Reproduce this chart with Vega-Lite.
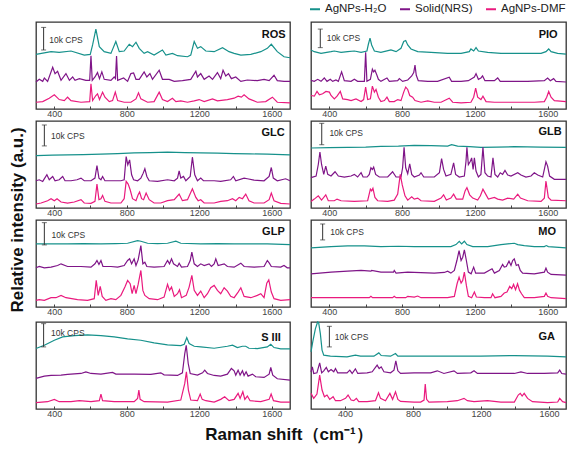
{
"$schema":"https://vega.github.io/schema/vega-lite/v6.json",
"padding":{"left":8,"top":3,"right":2,"bottom":4},
"background":"white",
"title":{"text":"Raman shift（cm⁻¹）","orient":"bottom","anchor":"middle","frame":"bounds","fontSize":17,"fontWeight":"bold","font":"Liberation Sans","color":"#111","offset":8},
"datasets":{
"ROS_H":[{"x":300,"y":162},{"x":383,"y":170},{"x":428,"y":168},{"x":493,"y":172},{"x":566,"y":160},{"x":599,"y":162},{"x":612,"y":190},{"x":630,"y":237},{"x":649,"y":185},{"x":676,"y":170},{"x":713,"y":165},{"x":740,"y":200},{"x":759,"y":170},{"x":786,"y":172},{"x":814,"y":192},{"x":832,"y":185},{"x":851,"y":198},{"x":869,"y":180},{"x":896,"y":165},{"x":915,"y":170},{"x":951,"y":160},{"x":997,"y":175},{"x":1016,"y":160},{"x":1052,"y":165},{"x":1080,"y":158},{"x":1135,"y":155},{"x":1153,"y":160},{"x":1172,"y":200},{"x":1190,"y":180},{"x":1208,"y":185},{"x":1236,"y":172},{"x":1282,"y":170},{"x":1328,"y":182},{"x":1364,"y":170},{"x":1392,"y":165},{"x":1429,"y":160},{"x":1484,"y":162},{"x":1539,"y":170},{"x":1575,"y":180},{"x":1597,"y":192},{"x":1630,"y":170},{"x":1667,"y":155},{"x":1700,"y":152}],
"ROS_N":[{"x":300,"y":80},{"x":318,"y":88},{"x":337,"y":82},{"x":346,"y":92},{"x":364,"y":82},{"x":392,"y":124},{"x":405,"y":105},{"x":419,"y":112},{"x":438,"y":85},{"x":465,"y":105},{"x":484,"y":85},{"x":502,"y":95},{"x":515,"y":85},{"x":539,"y":90},{"x":575,"y":85},{"x":596,"y":85},{"x":603,"y":158},{"x":610,"y":85},{"x":625,"y":95},{"x":639,"y":108},{"x":650,"y":90},{"x":663,"y":110},{"x":676,"y":88},{"x":713,"y":85},{"x":731,"y":95},{"x":738,"y":90},{"x":744,"y":157},{"x":750,"y":85},{"x":783,"y":92},{"x":805,"y":82},{"x":823,"y":105},{"x":838,"y":107},{"x":851,"y":88},{"x":869,"y":88},{"x":896,"y":110},{"x":911,"y":95},{"x":928,"y":105},{"x":942,"y":88},{"x":979,"y":115},{"x":997,"y":88},{"x":1034,"y":88},{"x":1062,"y":82},{"x":1107,"y":84},{"x":1153,"y":88},{"x":1181,"y":112},{"x":1190,"y":95},{"x":1208,"y":105},{"x":1227,"y":88},{"x":1254,"y":98},{"x":1273,"y":88},{"x":1300,"y":108},{"x":1318,"y":90},{"x":1331,"y":115},{"x":1346,"y":98},{"x":1361,"y":105},{"x":1377,"y":90},{"x":1401,"y":95},{"x":1429,"y":82},{"x":1465,"y":86},{"x":1520,"y":84},{"x":1557,"y":88},{"x":1585,"y":84},{"x":1612,"y":100},{"x":1630,"y":84},{"x":1667,"y":82},{"x":1700,"y":82}],
"ROS_D":[{"x":300,"y":20},{"x":337,"y":22},{"x":373,"y":32},{"x":401,"y":42},{"x":428,"y":28},{"x":456,"y":25},{"x":474,"y":35},{"x":493,"y":25},{"x":548,"y":20},{"x":596,"y":22},{"x":603,"y":75},{"x":612,"y":25},{"x":630,"y":40},{"x":639,"y":45},{"x":650,"y":28},{"x":667,"y":50},{"x":680,"y":35},{"x":704,"y":22},{"x":722,"y":25},{"x":737,"y":50},{"x":750,"y":25},{"x":786,"y":20},{"x":823,"y":20},{"x":851,"y":30},{"x":865,"y":48},{"x":878,"y":30},{"x":915,"y":20},{"x":951,"y":22},{"x":979,"y":50},{"x":997,"y":28},{"x":1025,"y":22},{"x":1052,"y":32},{"x":1071,"y":22},{"x":1098,"y":24},{"x":1135,"y":20},{"x":1172,"y":24},{"x":1199,"y":28},{"x":1227,"y":22},{"x":1273,"y":30},{"x":1300,"y":24},{"x":1355,"y":28},{"x":1392,"y":32},{"x":1414,"y":38},{"x":1432,"y":35},{"x":1447,"y":42},{"x":1474,"y":30},{"x":1520,"y":20},{"x":1566,"y":22},{"x":1603,"y":35},{"x":1630,"y":20},{"x":1700,"y":18}],
"PIO_H":[{"x":300,"y":175},{"x":318,"y":170},{"x":355,"y":165},{"x":410,"y":170},{"x":428,"y":172},{"x":465,"y":168},{"x":501,"y":170},{"x":538,"y":172},{"x":575,"y":168},{"x":607,"y":172},{"x":615,"y":192},{"x":624,"y":210},{"x":633,"y":190},{"x":648,"y":172},{"x":684,"y":168},{"x":739,"y":175},{"x":767,"y":170},{"x":794,"y":180},{"x":809,"y":200},{"x":820,"y":203},{"x":831,"y":190},{"x":849,"y":178},{"x":886,"y":170},{"x":959,"y":168},{"x":1050,"y":165},{"x":1124,"y":165},{"x":1169,"y":170},{"x":1178,"y":178},{"x":1193,"y":172},{"x":1206,"y":182},{"x":1219,"y":172},{"x":1270,"y":168},{"x":1343,"y":165},{"x":1416,"y":165},{"x":1490,"y":165},{"x":1563,"y":165},{"x":1590,"y":170},{"x":1605,"y":178},{"x":1618,"y":170},{"x":1654,"y":165},{"x":1700,"y":163}],
"PIO_N":[{"x":300,"y":85},{"x":318,"y":82},{"x":337,"y":88},{"x":355,"y":82},{"x":373,"y":92},{"x":388,"y":82},{"x":406,"y":88},{"x":419,"y":82},{"x":437,"y":86},{"x":450,"y":82},{"x":468,"y":110},{"x":483,"y":84},{"x":520,"y":82},{"x":538,"y":88},{"x":556,"y":82},{"x":593,"y":82},{"x":600,"y":168},{"x":607,"y":82},{"x":626,"y":88},{"x":637,"y":118},{"x":644,"y":110},{"x":651,"y":115},{"x":662,"y":100},{"x":670,"y":88},{"x":684,"y":82},{"x":717,"y":92},{"x":730,"y":82},{"x":776,"y":84},{"x":785,"y":90},{"x":803,"y":82},{"x":831,"y":86},{"x":853,"y":98},{"x":864,"y":108},{"x":871,"y":130},{"x":878,"y":100},{"x":889,"y":84},{"x":941,"y":82},{"x":995,"y":82},{"x":1059,"y":94},{"x":1072,"y":82},{"x":1124,"y":82},{"x":1164,"y":84},{"x":1197,"y":95},{"x":1206,"y":105},{"x":1219,"y":88},{"x":1233,"y":92},{"x":1242,"y":98},{"x":1255,"y":84},{"x":1307,"y":84},{"x":1325,"y":92},{"x":1339,"y":82},{"x":1416,"y":82},{"x":1490,"y":82},{"x":1581,"y":84},{"x":1599,"y":92},{"x":1614,"y":84},{"x":1632,"y":90},{"x":1645,"y":82},{"x":1700,"y":80}],
"PIO_D":[{"x":300,"y":40},{"x":318,"y":38},{"x":333,"y":52},{"x":346,"y":42},{"x":364,"y":45},{"x":382,"y":52},{"x":401,"y":50},{"x":410,"y":40},{"x":428,"y":30},{"x":443,"y":38},{"x":461,"y":52},{"x":474,"y":30},{"x":501,"y":28},{"x":520,"y":25},{"x":547,"y":30},{"x":575,"y":22},{"x":589,"y":28},{"x":600,"y":65},{"x":611,"y":28},{"x":626,"y":30},{"x":637,"y":68},{"x":648,"y":50},{"x":657,"y":58},{"x":670,"y":35},{"x":684,"y":22},{"x":703,"y":25},{"x":717,"y":35},{"x":730,"y":22},{"x":757,"y":22},{"x":776,"y":28},{"x":794,"y":25},{"x":809,"y":50},{"x":820,"y":65},{"x":831,"y":58},{"x":842,"y":40},{"x":858,"y":35},{"x":871,"y":25},{"x":904,"y":20},{"x":941,"y":24},{"x":977,"y":20},{"x":1014,"y":20},{"x":1059,"y":32},{"x":1078,"y":20},{"x":1124,"y":18},{"x":1178,"y":20},{"x":1193,"y":35},{"x":1204,"y":62},{"x":1215,"y":35},{"x":1233,"y":28},{"x":1244,"y":38},{"x":1261,"y":22},{"x":1307,"y":20},{"x":1380,"y":20},{"x":1453,"y":20},{"x":1526,"y":20},{"x":1581,"y":22},{"x":1594,"y":35},{"x":1605,"y":52},{"x":1618,"y":35},{"x":1636,"y":25},{"x":1700,"y":22}],
"GLC_H":[{"x":300,"y":158},{"x":390,"y":159},{"x":474,"y":160},{"x":560,"y":161},{"x":658,"y":162},{"x":750,"y":164},{"x":841,"y":166},{"x":930,"y":167},{"x":1025,"y":168},{"x":1120,"y":167},{"x":1208,"y":166},{"x":1300,"y":165},{"x":1392,"y":164},{"x":1480,"y":163},{"x":1575,"y":162},{"x":1700,"y":160}],
"GLC_N":[{"x":300,"y":82},{"x":318,"y":85},{"x":337,"y":80},{"x":360,"y":100},{"x":373,"y":85},{"x":392,"y":95},{"x":405,"y":82},{"x":428,"y":85},{"x":447,"y":95},{"x":460,"y":82},{"x":493,"y":82},{"x":526,"y":85},{"x":548,"y":90},{"x":566,"y":82},{"x":603,"y":82},{"x":625,"y":90},{"x":636,"y":128},{"x":647,"y":90},{"x":658,"y":85},{"x":667,"y":95},{"x":680,"y":82},{"x":731,"y":82},{"x":768,"y":82},{"x":786,"y":85},{"x":797,"y":155},{"x":806,"y":130},{"x":816,"y":145},{"x":827,"y":100},{"x":838,"y":85},{"x":860,"y":82},{"x":878,"y":90},{"x":891,"y":105},{"x":900,"y":118},{"x":911,"y":95},{"x":924,"y":82},{"x":970,"y":80},{"x":1025,"y":85},{"x":1062,"y":82},{"x":1080,"y":90},{"x":1089,"y":112},{"x":1098,"y":90},{"x":1113,"y":95},{"x":1126,"y":82},{"x":1150,"y":95},{"x":1162,"y":153},{"x":1175,"y":100},{"x":1190,"y":82},{"x":1208,"y":90},{"x":1223,"y":82},{"x":1282,"y":82},{"x":1318,"y":80},{"x":1373,"y":85},{"x":1388,"y":95},{"x":1401,"y":82},{"x":1447,"y":90},{"x":1465,"y":88},{"x":1502,"y":84},{"x":1557,"y":82},{"x":1585,"y":95},{"x":1597,"y":122},{"x":1608,"y":90},{"x":1630,"y":82},{"x":1676,"y":88},{"x":1700,"y":82}],
"GLC_D":[{"x":300,"y":12},{"x":328,"y":15},{"x":364,"y":22},{"x":383,"y":28},{"x":401,"y":22},{"x":416,"y":28},{"x":438,"y":18},{"x":474,"y":15},{"x":511,"y":18},{"x":548,"y":25},{"x":566,"y":15},{"x":603,"y":14},{"x":625,"y":20},{"x":636,"y":72},{"x":647,"y":25},{"x":658,"y":28},{"x":667,"y":38},{"x":680,"y":20},{"x":713,"y":15},{"x":768,"y":15},{"x":786,"y":28},{"x":797,"y":80},{"x":808,"y":72},{"x":819,"y":55},{"x":832,"y":28},{"x":851,"y":22},{"x":863,"y":40},{"x":871,"y":48},{"x":882,"y":28},{"x":893,"y":25},{"x":907,"y":45},{"x":924,"y":25},{"x":951,"y":15},{"x":988,"y":15},{"x":1025,"y":22},{"x":1062,"y":25},{"x":1089,"y":42},{"x":1107,"y":22},{"x":1135,"y":25},{"x":1162,"y":58},{"x":1181,"y":32},{"x":1194,"y":22},{"x":1208,"y":25},{"x":1227,"y":15},{"x":1282,"y":15},{"x":1318,"y":20},{"x":1355,"y":22},{"x":1383,"y":28},{"x":1401,"y":22},{"x":1420,"y":32},{"x":1438,"y":28},{"x":1456,"y":42},{"x":1474,"y":22},{"x":1502,"y":15},{"x":1557,"y":15},{"x":1585,"y":25},{"x":1597,"y":45},{"x":1612,"y":22},{"x":1649,"y":14},{"x":1700,"y":12}],
"GLB_H":[{"x":300,"y":182},{"x":400,"y":183},{"x":501,"y":184},{"x":600,"y":185},{"x":684,"y":187},{"x":780,"y":188},{"x":867,"y":190},{"x":960,"y":189},{"x":1050,"y":188},{"x":1072,"y":192},{"x":1105,"y":188},{"x":1170,"y":186},{"x":1233,"y":184},{"x":1320,"y":185},{"x":1416,"y":186},{"x":1560,"y":185},{"x":1700,"y":184}],
"GLB_N":[{"x":300,"y":92},{"x":328,"y":97},{"x":340,"y":132},{"x":349,"y":170},{"x":358,"y":132},{"x":370,"y":102},{"x":381,"y":127},{"x":392,"y":102},{"x":410,"y":97},{"x":432,"y":110},{"x":450,"y":97},{"x":483,"y":94},{"x":520,"y":97},{"x":538,"y":102},{"x":556,"y":94},{"x":575,"y":107},{"x":586,"y":94},{"x":608,"y":94},{"x":620,"y":102},{"x":629,"y":122},{"x":637,"y":117},{"x":644,"y":124},{"x":655,"y":102},{"x":675,"y":94},{"x":721,"y":94},{"x":748,"y":110},{"x":767,"y":94},{"x":794,"y":94},{"x":803,"y":122},{"x":811,"y":184},{"x":820,"y":122},{"x":831,"y":104},{"x":842,"y":134},{"x":853,"y":102},{"x":867,"y":94},{"x":895,"y":100},{"x":904,"y":107},{"x":919,"y":94},{"x":977,"y":94},{"x":1005,"y":107},{"x":1017,"y":150},{"x":1028,"y":117},{"x":1041,"y":97},{"x":1068,"y":102},{"x":1083,"y":137},{"x":1094,"y":102},{"x":1114,"y":94},{"x":1142,"y":97},{"x":1151,"y":142},{"x":1156,"y":184},{"x":1164,"y":132},{"x":1175,"y":142},{"x":1182,"y":152},{"x":1190,"y":117},{"x":1197,"y":152},{"x":1206,"y":112},{"x":1219,"y":94},{"x":1233,"y":102},{"x":1244,"y":184},{"x":1255,"y":107},{"x":1270,"y":97},{"x":1288,"y":94},{"x":1299,"y":152},{"x":1310,"y":102},{"x":1325,"y":94},{"x":1339,"y":107},{"x":1352,"y":102},{"x":1365,"y":114},{"x":1380,"y":100},{"x":1398,"y":97},{"x":1435,"y":107},{"x":1453,"y":100},{"x":1480,"y":94},{"x":1508,"y":97},{"x":1526,"y":107},{"x":1545,"y":100},{"x":1572,"y":94},{"x":1590,"y":140},{"x":1599,"y":127},{"x":1610,"y":97},{"x":1636,"y":87},{"x":1700,"y":87}],
"GLB_D":[{"x":300,"y":20},{"x":318,"y":27},{"x":340,"y":37},{"x":358,"y":24},{"x":381,"y":40},{"x":395,"y":22},{"x":428,"y":22},{"x":443,"y":27},{"x":465,"y":22},{"x":538,"y":20},{"x":611,"y":22},{"x":626,"y":57},{"x":633,"y":52},{"x":640,"y":60},{"x":651,"y":32},{"x":666,"y":22},{"x":721,"y":20},{"x":757,"y":24},{"x":776,"y":42},{"x":790,"y":102},{"x":801,"y":70},{"x":816,"y":37},{"x":831,"y":24},{"x":853,"y":34},{"x":867,"y":27},{"x":886,"y":30},{"x":904,"y":22},{"x":977,"y":20},{"x":1014,"y":30},{"x":1028,"y":40},{"x":1043,"y":24},{"x":1068,"y":30},{"x":1083,"y":42},{"x":1098,"y":27},{"x":1133,"y":27},{"x":1146,"y":52},{"x":1156,"y":62},{"x":1171,"y":40},{"x":1188,"y":30},{"x":1215,"y":24},{"x":1230,"y":37},{"x":1244,"y":57},{"x":1259,"y":42},{"x":1274,"y":27},{"x":1307,"y":32},{"x":1325,"y":27},{"x":1352,"y":24},{"x":1380,"y":30},{"x":1413,"y":27},{"x":1435,"y":42},{"x":1450,"y":30},{"x":1490,"y":22},{"x":1563,"y":20},{"x":1581,"y":30},{"x":1590,"y":82},{"x":1603,"y":32},{"x":1618,"y":24},{"x":1700,"y":22}],
"GLP_H":[{"x":300,"y":190},{"x":390,"y":190},{"x":474,"y":190},{"x":560,"y":191},{"x":658,"y":190},{"x":740,"y":191},{"x":805,"y":192},{"x":860,"y":200},{"x":878,"y":198},{"x":915,"y":192},{"x":970,"y":191},{"x":1025,"y":192},{"x":1071,"y":198},{"x":1098,"y":192},{"x":1208,"y":190},{"x":1300,"y":191},{"x":1392,"y":190},{"x":1480,"y":190},{"x":1575,"y":190},{"x":1700,"y":188}],
"GLP_N":[{"x":300,"y":118},{"x":318,"y":122},{"x":346,"y":118},{"x":383,"y":120},{"x":419,"y":125},{"x":438,"y":130},{"x":474,"y":122},{"x":548,"y":122},{"x":603,"y":120},{"x":625,"y":130},{"x":636,"y":140},{"x":647,"y":128},{"x":658,"y":140},{"x":669,"y":122},{"x":713,"y":122},{"x":750,"y":120},{"x":786,"y":125},{"x":805,"y":140},{"x":816,"y":145},{"x":827,"y":130},{"x":841,"y":145},{"x":851,"y":125},{"x":863,"y":142},{"x":878,"y":185},{"x":889,"y":130},{"x":900,"y":135},{"x":911,"y":122},{"x":951,"y":120},{"x":1006,"y":122},{"x":1025,"y":140},{"x":1036,"y":130},{"x":1047,"y":145},{"x":1058,"y":130},{"x":1080,"y":122},{"x":1089,"y":132},{"x":1102,"y":120},{"x":1135,"y":122},{"x":1150,"y":140},{"x":1159,"y":165},{"x":1172,"y":130},{"x":1190,"y":122},{"x":1208,"y":130},{"x":1227,"y":125},{"x":1254,"y":130},{"x":1267,"y":122},{"x":1282,"y":130},{"x":1291,"y":145},{"x":1304,"y":125},{"x":1337,"y":130},{"x":1355,"y":122},{"x":1392,"y":120},{"x":1429,"y":132},{"x":1447,"y":122},{"x":1502,"y":120},{"x":1557,"y":122},{"x":1575,"y":140},{"x":1586,"y":132},{"x":1597,"y":122},{"x":1649,"y":120},{"x":1667,"y":125},{"x":1685,"y":118},{"x":1700,"y":118}],
"GLP_D":[{"x":300,"y":20},{"x":318,"y":22},{"x":346,"y":20},{"x":383,"y":28},{"x":410,"y":28},{"x":438,"y":35},{"x":465,"y":28},{"x":529,"y":22},{"x":584,"y":20},{"x":621,"y":25},{"x":632,"y":80},{"x":643,"y":35},{"x":654,"y":62},{"x":665,"y":32},{"x":685,"y":20},{"x":713,"y":25},{"x":740,"y":22},{"x":768,"y":35},{"x":790,"y":60},{"x":805,"y":80},{"x":819,"y":70},{"x":830,"y":40},{"x":841,"y":65},{"x":851,"y":40},{"x":863,"y":68},{"x":878,"y":110},{"x":889,"y":50},{"x":900,"y":35},{"x":924,"y":25},{"x":970,"y":22},{"x":1006,"y":30},{"x":1025,"y":68},{"x":1036,"y":50},{"x":1047,"y":60},{"x":1062,"y":32},{"x":1080,"y":40},{"x":1091,"y":52},{"x":1102,"y":28},{"x":1128,"y":35},{"x":1144,"y":60},{"x":1159,"y":95},{"x":1172,"y":50},{"x":1190,"y":35},{"x":1208,"y":48},{"x":1227,"y":28},{"x":1245,"y":40},{"x":1263,"y":58},{"x":1282,"y":65},{"x":1300,"y":50},{"x":1318,"y":40},{"x":1337,"y":58},{"x":1355,"y":48},{"x":1373,"y":32},{"x":1392,"y":28},{"x":1414,"y":45},{"x":1429,"y":58},{"x":1447,"y":32},{"x":1484,"y":28},{"x":1520,"y":35},{"x":1539,"y":40},{"x":1557,"y":28},{"x":1572,"y":72},{"x":1583,"y":82},{"x":1597,"y":45},{"x":1612,"y":25},{"x":1649,"y":20},{"x":1700,"y":22}],
"MO_H":[{"x":300,"y":178},{"x":410,"y":182},{"x":501,"y":184},{"x":593,"y":184},{"x":684,"y":182},{"x":780,"y":183},{"x":867,"y":182},{"x":959,"y":182},{"x":1068,"y":182},{"x":1096,"y":188},{"x":1114,"y":198},{"x":1127,"y":190},{"x":1142,"y":198},{"x":1156,"y":188},{"x":1188,"y":182},{"x":1270,"y":182},{"x":1343,"y":188},{"x":1380,"y":190},{"x":1416,"y":192},{"x":1435,"y":188},{"x":1471,"y":185},{"x":1526,"y":182},{"x":1581,"y":182},{"x":1592,"y":185},{"x":1603,"y":182},{"x":1700,"y":178}],
"MO_N":[{"x":300,"y":100},{"x":410,"y":105},{"x":501,"y":108},{"x":575,"y":110},{"x":629,"y":108},{"x":633,"y":110},{"x":684,"y":105},{"x":753,"y":105},{"x":757,"y":110},{"x":767,"y":102},{"x":831,"y":105},{"x":867,"y":104},{"x":977,"y":102},{"x":1032,"y":104},{"x":1050,"y":108},{"x":1068,"y":102},{"x":1087,"y":110},{"x":1101,"y":140},{"x":1113,"y":170},{"x":1124,"y":140},{"x":1133,"y":150},{"x":1142,"y":172},{"x":1153,"y":140},{"x":1164,"y":105},{"x":1179,"y":100},{"x":1193,"y":120},{"x":1204,"y":102},{"x":1252,"y":102},{"x":1294,"y":115},{"x":1307,"y":102},{"x":1334,"y":110},{"x":1352,"y":128},{"x":1361,"y":120},{"x":1372,"y":122},{"x":1387,"y":138},{"x":1398,"y":125},{"x":1407,"y":140},{"x":1416,"y":145},{"x":1427,"y":125},{"x":1438,"y":128},{"x":1449,"y":110},{"x":1462,"y":102},{"x":1526,"y":100},{"x":1581,"y":105},{"x":1590,"y":117},{"x":1599,"y":105},{"x":1618,"y":98},{"x":1700,"y":96}],
"MO_D":[{"x":300,"y":28},{"x":410,"y":28},{"x":501,"y":28},{"x":620,"y":28},{"x":629,"y":32},{"x":638,"y":28},{"x":748,"y":28},{"x":757,"y":32},{"x":767,"y":28},{"x":820,"y":28},{"x":831,"y":32},{"x":867,"y":30},{"x":886,"y":33},{"x":904,"y":28},{"x":1050,"y":28},{"x":1087,"y":32},{"x":1102,"y":70},{"x":1113,"y":90},{"x":1124,"y":72},{"x":1133,"y":80},{"x":1142,"y":105},{"x":1153,"y":65},{"x":1164,"y":32},{"x":1182,"y":28},{"x":1197,"y":45},{"x":1208,"y":30},{"x":1252,"y":28},{"x":1288,"y":28},{"x":1297,"y":40},{"x":1310,"y":28},{"x":1343,"y":32},{"x":1361,"y":42},{"x":1376,"y":45},{"x":1391,"y":62},{"x":1402,"y":55},{"x":1412,"y":68},{"x":1423,"y":52},{"x":1434,"y":70},{"x":1445,"y":50},{"x":1456,"y":40},{"x":1471,"y":28},{"x":1526,"y":28},{"x":1581,"y":32},{"x":1590,"y":42},{"x":1599,"y":32},{"x":1618,"y":28},{"x":1700,"y":25}],
"S3_H":[{"x":300,"y":182},{"x":346,"y":192},{"x":401,"y":207},{"x":447,"y":217},{"x":511,"y":221},{"x":584,"y":223},{"x":658,"y":221},{"x":731,"y":217},{"x":805,"y":211},{"x":878,"y":207},{"x":951,"y":199},{"x":1025,"y":193},{"x":1098,"y":191},{"x":1117,"y":195},{"x":1131,"y":215},{"x":1144,"y":197},{"x":1172,"y":189},{"x":1208,"y":187},{"x":1282,"y":183},{"x":1355,"y":189},{"x":1383,"y":192},{"x":1410,"y":185},{"x":1438,"y":189},{"x":1456,"y":189},{"x":1474,"y":183},{"x":1520,"y":182},{"x":1575,"y":187},{"x":1594,"y":195},{"x":1612,"y":185},{"x":1649,"y":181},{"x":1700,"y":181}],
"S3_N":[{"x":300,"y":92},{"x":346,"y":99},{"x":383,"y":101},{"x":438,"y":102},{"x":474,"y":104},{"x":548,"y":107},{"x":575,"y":112},{"x":603,"y":107},{"x":658,"y":105},{"x":722,"y":110},{"x":740,"y":105},{"x":841,"y":105},{"x":933,"y":104},{"x":988,"y":109},{"x":1006,"y":103},{"x":1080,"y":101},{"x":1107,"y":109},{"x":1120,"y":167},{"x":1128,"y":192},{"x":1139,"y":137},{"x":1150,"y":107},{"x":1190,"y":102},{"x":1218,"y":109},{"x":1230,"y":117},{"x":1245,"y":107},{"x":1282,"y":101},{"x":1318,"y":99},{"x":1355,"y":105},{"x":1377,"y":122},{"x":1392,"y":115},{"x":1401,"y":102},{"x":1414,"y":117},{"x":1425,"y":102},{"x":1438,"y":115},{"x":1447,"y":101},{"x":1458,"y":112},{"x":1469,"y":99},{"x":1493,"y":105},{"x":1511,"y":97},{"x":1557,"y":95},{"x":1585,"y":105},{"x":1594,"y":125},{"x":1605,"y":102},{"x":1630,"y":91},{"x":1700,"y":87}],
"S3_D":[{"x":300,"y":19},{"x":364,"y":22},{"x":401,"y":29},{"x":428,"y":22},{"x":493,"y":22},{"x":539,"y":25},{"x":603,"y":22},{"x":649,"y":25},{"x":658,"y":45},{"x":667,"y":25},{"x":731,"y":22},{"x":841,"y":22},{"x":860,"y":32},{"x":867,"y":57},{"x":874,"y":29},{"x":896,"y":22},{"x":1025,"y":21},{"x":1098,"y":27},{"x":1120,"y":77},{"x":1129,"y":112},{"x":1140,"y":57},{"x":1153,"y":27},{"x":1190,"y":25},{"x":1205,"y":45},{"x":1216,"y":29},{"x":1236,"y":25},{"x":1282,"y":21},{"x":1318,"y":29},{"x":1340,"y":37},{"x":1364,"y":25},{"x":1392,"y":29},{"x":1414,"y":47},{"x":1425,"y":32},{"x":1440,"y":52},{"x":1451,"y":29},{"x":1465,"y":39},{"x":1480,"y":25},{"x":1539,"y":22},{"x":1585,"y":29},{"x":1596,"y":45},{"x":1609,"y":25},{"x":1649,"y":21},{"x":1700,"y":21}],
"GA_H":[{"x":200,"y":172},{"x":212,"y":207},{"x":226,"y":242},{"x":239,"y":262},{"x":245,"y":260},{"x":255,"y":227},{"x":265,"y":177},{"x":275,"y":162},{"x":314,"y":159},{"x":412,"y":157},{"x":461,"y":162},{"x":491,"y":159},{"x":570,"y":159},{"x":599,"y":169},{"x":613,"y":161},{"x":668,"y":159},{"x":697,"y":167},{"x":711,"y":159},{"x":806,"y":159},{"x":1002,"y":159},{"x":1199,"y":159},{"x":1396,"y":161},{"x":1592,"y":159},{"x":1700,"y":157}],
"GA_N":[{"x":200,"y":112},{"x":208,"y":127},{"x":216,"y":107},{"x":235,"y":109},{"x":251,"y":139},{"x":263,"y":109},{"x":275,"y":115},{"x":290,"y":125},{"x":302,"y":112},{"x":318,"y":119},{"x":334,"y":112},{"x":344,"y":122},{"x":357,"y":109},{"x":412,"y":109},{"x":428,"y":117},{"x":442,"y":107},{"x":461,"y":121},{"x":475,"y":107},{"x":530,"y":109},{"x":560,"y":112},{"x":589,"y":132},{"x":601,"y":122},{"x":613,"y":127},{"x":629,"y":112},{"x":668,"y":109},{"x":688,"y":117},{"x":699,"y":145},{"x":711,"y":115},{"x":727,"y":107},{"x":806,"y":109},{"x":904,"y":109},{"x":943,"y":115},{"x":982,"y":107},{"x":1041,"y":115},{"x":1061,"y":107},{"x":1140,"y":109},{"x":1159,"y":115},{"x":1179,"y":107},{"x":1297,"y":107},{"x":1396,"y":107},{"x":1435,"y":112},{"x":1474,"y":107},{"x":1572,"y":107},{"x":1651,"y":109},{"x":1663,"y":117},{"x":1675,"y":107},{"x":1700,"y":105}],
"GA_D":[{"x":200,"y":47},{"x":216,"y":32},{"x":235,"y":45},{"x":251,"y":102},{"x":265,"y":57},{"x":279,"y":37},{"x":294,"y":42},{"x":310,"y":29},{"x":330,"y":37},{"x":344,"y":25},{"x":373,"y":25},{"x":403,"y":32},{"x":418,"y":42},{"x":436,"y":27},{"x":452,"y":25},{"x":467,"y":32},{"x":481,"y":22},{"x":530,"y":22},{"x":579,"y":25},{"x":597,"y":49},{"x":609,"y":32},{"x":638,"y":25},{"x":664,"y":47},{"x":680,"y":29},{"x":697,"y":52},{"x":711,"y":29},{"x":727,"y":23},{"x":806,"y":21},{"x":845,"y":21},{"x":865,"y":27},{"x":872,"y":75},{"x":880,"y":29},{"x":894,"y":21},{"x":1002,"y":22},{"x":1061,"y":25},{"x":1100,"y":32},{"x":1120,"y":25},{"x":1159,"y":22},{"x":1238,"y":25},{"x":1317,"y":21},{"x":1396,"y":21},{"x":1419,"y":42},{"x":1431,"y":47},{"x":1442,"y":39},{"x":1454,"y":47},{"x":1474,"y":32},{"x":1503,"y":22},{"x":1592,"y":19},{"x":1651,"y":21},{"x":1663,"y":32},{"x":1680,"y":22},{"x":1700,"y":19}],
"bars":[{"p":"ROS","x":342,"y":242,"y2":175},{"p":"PIO","x":351,"y":237,"y2":182},{"p":"GLC","x":346,"y":250,"y2":187},{"p":"GLB","x":359,"y":257,"y2":192},{"p":"GLP","x":346,"y":254,"y2":187},{"p":"MO","x":364,"y":250,"y2":202},{"p":"S III","x":342,"y":257,"y2":187},{"p":"GA","x":308,"y":249,"y2":187}],
"cps":[{"p":"ROS","x":373,"y":205},{"p":"PIO","x":386,"y":210},{"p":"GLC","x":383,"y":218},{"p":"GLB","x":401,"y":227},{"p":"GLP","x":386,"y":218},{"p":"MO","x":406,"y":225},{"p":"S III","x":383,"y":229},{"p":"GA","x":340,"y":217}],
"names":[{"p":"ROS","x":1676,"y":218},{"p":"PIO","x":1654,"y":218},{"p":"GLC","x":1671,"y":225},{"p":"GLB","x":1676,"y":232},{"p":"GLP","x":1671,"y":225},{"p":"MO","x":1645,"y":225},{"p":"S III","x":1649,"y":215},{"p":"GA","x":1635,"y":217}]
},
"vconcat":[{
"title":{"text":"Relative intensity (a.u.)","orient":"left","anchor":"middle","frame":"bounds","fontSize":17,"fontWeight":"bold","font":"Liberation Sans","color":"#111","offset":6},
"spacing":1,
"vconcat":[
{"hconcat":[
{"width":254,"height":87,"encoding":{"x":{"field":"x","type":"quantitative","scale":{"domain":[300,1700],"nice":false,"zero":false},"axis":{"values":[400,600,800,1000,1200,1400,1600],"format":"d","labelExpr":"datum.value % 400 === 0 ? datum.label : ''","title":null}},"y":{"field":"y","type":"quantitative","scale":{"domain":[0,258]},"axis":null}},
"layer":[
{"data":{"name":"ROS_H"},"mark":{"type":"line","strokeWidth":1.2},"encoding":{"color":{"datum":"AgNPs-H₂O","type":"nominal","scale":{"domain":["AgNPs-H₂O","Solid(NRS)","AgNPs-DMF"],"range":["#16918b","#7f1588","#ea1a7e"]},"legend":{"title":null,"orient":"none","legendX":273,"legendY":-19,"direction":"horizontal","symbolType":"stroke","symbolStrokeWidth":2,"symbolSize":100,"labelFontSize":11.5,"labelFont":"Liberation Sans","labelColor":"#222","labelOffset":4,"columnPadding":9}}}},
{"data":{"name":"ROS_N"},"mark":{"type":"line","strokeWidth":1.2},"encoding":{"color":{"datum":"Solid(NRS)","type":"nominal"}}},
{"data":{"name":"ROS_D"},"mark":{"type":"line","strokeWidth":1.2},"encoding":{"color":{"datum":"AgNPs-DMF","type":"nominal"}}},
{"data":{"name":"bars"},"transform":[{"filter":"datum.p==='ROS'"}],"mark":{"type":"errorbar","ticks":true,"color":"#333","orient":"vertical"},"encoding":{"y2":{"field":"y2"}}},
{"data":{"name":"cps"},"transform":[{"filter":"datum.p==='ROS'"}],"mark":{"type":"text","text":"10k CPS","align":"left","baseline":"middle","fontSize":8.5,"color":"#333"}},
{"data":{"name":"names"},"transform":[{"filter":"datum.p==='ROS'"}],"mark":{"type":"text","align":"right","baseline":"middle","fontSize":11,"fontWeight":"bold","color":"#111"},"encoding":{"text":{"field":"p"}}}
]},
{"width":255,"height":87,"encoding":{"x":{"field":"x","type":"quantitative","scale":{"domain":[300,1700],"nice":false,"zero":false},"axis":{"values":[400,600,800,1000,1200,1400,1600],"format":"d","labelExpr":"datum.value % 400 === 0 ? datum.label : ''","title":null}},"y":{"field":"y","type":"quantitative","scale":{"domain":[0,258]},"axis":null}},
"layer":[
{"data":{"name":"PIO_H"},"mark":{"type":"line","strokeWidth":1.2},"encoding":{"color":{"datum":"AgNPs-H₂O","type":"nominal"}}},
{"data":{"name":"PIO_N"},"mark":{"type":"line","strokeWidth":1.2},"encoding":{"color":{"datum":"Solid(NRS)","type":"nominal"}}},
{"data":{"name":"PIO_D"},"mark":{"type":"line","strokeWidth":1.2},"encoding":{"color":{"datum":"AgNPs-DMF","type":"nominal"}}},
{"data":{"name":"bars"},"transform":[{"filter":"datum.p==='PIO'"}],"mark":{"type":"errorbar","ticks":true,"color":"#333","orient":"vertical"},"encoding":{"y2":{"field":"y2"}}},
{"data":{"name":"cps"},"transform":[{"filter":"datum.p==='PIO'"}],"mark":{"type":"text","text":"10k CPS","align":"left","baseline":"middle","fontSize":8.5,"color":"#333"}},
{"data":{"name":"names"},"transform":[{"filter":"datum.p==='PIO'"}],"mark":{"type":"text","align":"right","baseline":"middle","fontSize":11,"fontWeight":"bold","color":"#111"},"encoding":{"text":{"field":"p"}}}
]}
],"spacing":21,"bounds":"flush"},
{"hconcat":[
{"width":254,"height":87,"encoding":{"x":{"field":"x","type":"quantitative","scale":{"domain":[300,1700],"nice":false,"zero":false},"axis":{"values":[400,600,800,1000,1200,1400,1600],"format":"d","labelExpr":"datum.value % 400 === 0 ? datum.label : ''","title":null}},"y":{"field":"y","type":"quantitative","scale":{"domain":[0,262]},"axis":null}},
"layer":[
{"data":{"name":"GLC_H"},"mark":{"type":"line","strokeWidth":1.2},"encoding":{"color":{"datum":"AgNPs-H₂O","type":"nominal"}}},
{"data":{"name":"GLC_N"},"mark":{"type":"line","strokeWidth":1.2},"encoding":{"color":{"datum":"Solid(NRS)","type":"nominal"}}},
{"data":{"name":"GLC_D"},"mark":{"type":"line","strokeWidth":1.2},"encoding":{"color":{"datum":"AgNPs-DMF","type":"nominal"}}},
{"data":{"name":"bars"},"transform":[{"filter":"datum.p==='GLC'"}],"mark":{"type":"errorbar","ticks":true,"color":"#333","orient":"vertical"},"encoding":{"y2":{"field":"y2"}}},
{"data":{"name":"cps"},"transform":[{"filter":"datum.p==='GLC'"}],"mark":{"type":"text","text":"10k CPS","align":"left","baseline":"middle","fontSize":8.5,"color":"#333"}},
{"data":{"name":"names"},"transform":[{"filter":"datum.p==='GLC'"}],"mark":{"type":"text","align":"right","baseline":"middle","fontSize":11,"fontWeight":"bold","color":"#111"},"encoding":{"text":{"field":"p"}}}
]},
{"width":255,"height":87,"encoding":{"x":{"field":"x","type":"quantitative","scale":{"domain":[300,1700],"nice":false,"zero":false},"axis":{"values":[400,600,800,1000,1200,1400,1600],"format":"d","labelExpr":"datum.value % 400 === 0 ? datum.label : ''","title":null}},"y":{"field":"y","type":"quantitative","scale":{"domain":[0,264]},"axis":null}},
"layer":[
{"data":{"name":"GLB_H"},"mark":{"type":"line","strokeWidth":1.2},"encoding":{"color":{"datum":"AgNPs-H₂O","type":"nominal"}}},
{"data":{"name":"GLB_N"},"mark":{"type":"line","strokeWidth":1.2},"encoding":{"color":{"datum":"Solid(NRS)","type":"nominal"}}},
{"data":{"name":"GLB_D"},"mark":{"type":"line","strokeWidth":1.2},"encoding":{"color":{"datum":"AgNPs-DMF","type":"nominal"}}},
{"data":{"name":"bars"},"transform":[{"filter":"datum.p==='GLB'"}],"mark":{"type":"errorbar","ticks":true,"color":"#333","orient":"vertical"},"encoding":{"y2":{"field":"y2"}}},
{"data":{"name":"cps"},"transform":[{"filter":"datum.p==='GLB'"}],"mark":{"type":"text","text":"10k CPS","align":"left","baseline":"middle","fontSize":8.5,"color":"#333"}},
{"data":{"name":"names"},"transform":[{"filter":"datum.p==='GLB'"}],"mark":{"type":"text","align":"right","baseline":"middle","fontSize":11,"fontWeight":"bold","color":"#111"},"encoding":{"text":{"field":"p"}}}
]}
],"spacing":21,"bounds":"flush"},
{"hconcat":[
{"width":254,"height":87,"encoding":{"x":{"field":"x","type":"quantitative","scale":{"domain":[300,1700],"nice":false,"zero":false},"axis":{"values":[400,600,800,1000,1200,1400,1600],"format":"d","labelExpr":"datum.value % 400 === 0 ? datum.label : ''","title":null}},"y":{"field":"y","type":"quantitative","scale":{"domain":[0,262]},"axis":null}},
"layer":[
{"data":{"name":"GLP_H"},"mark":{"type":"line","strokeWidth":1.2},"encoding":{"color":{"datum":"AgNPs-H₂O","type":"nominal"}}},
{"data":{"name":"GLP_N"},"mark":{"type":"line","strokeWidth":1.2},"encoding":{"color":{"datum":"Solid(NRS)","type":"nominal"}}},
{"data":{"name":"GLP_D"},"mark":{"type":"line","strokeWidth":1.2},"encoding":{"color":{"datum":"AgNPs-DMF","type":"nominal"}}},
{"data":{"name":"bars"},"transform":[{"filter":"datum.p==='GLP'"}],"mark":{"type":"errorbar","ticks":true,"color":"#333","orient":"vertical"},"encoding":{"y2":{"field":"y2"}}},
{"data":{"name":"cps"},"transform":[{"filter":"datum.p==='GLP'"}],"mark":{"type":"text","text":"10k CPS","align":"left","baseline":"middle","fontSize":8.5,"color":"#333"}},
{"data":{"name":"names"},"transform":[{"filter":"datum.p==='GLP'"}],"mark":{"type":"text","align":"right","baseline":"middle","fontSize":11,"fontWeight":"bold","color":"#111"},"encoding":{"text":{"field":"p"}}}
]},
{"width":255,"height":87,"encoding":{"x":{"field":"x","type":"quantitative","scale":{"domain":[300,1700],"nice":false,"zero":false},"axis":{"values":[400,600,800,1000,1200,1400,1600],"format":"d","labelExpr":"datum.value % 400 === 0 ? datum.label : ''","title":null}},"y":{"field":"y","type":"quantitative","scale":{"domain":[0,262]},"axis":null}},
"layer":[
{"data":{"name":"MO_H"},"mark":{"type":"line","strokeWidth":1.2},"encoding":{"color":{"datum":"AgNPs-H₂O","type":"nominal"}}},
{"data":{"name":"MO_N"},"mark":{"type":"line","strokeWidth":1.2},"encoding":{"color":{"datum":"Solid(NRS)","type":"nominal"}}},
{"data":{"name":"MO_D"},"mark":{"type":"line","strokeWidth":1.2},"encoding":{"color":{"datum":"AgNPs-DMF","type":"nominal"}}},
{"data":{"name":"bars"},"transform":[{"filter":"datum.p==='MO'"}],"mark":{"type":"errorbar","ticks":true,"color":"#333","orient":"vertical"},"encoding":{"y2":{"field":"y2"}}},
{"data":{"name":"cps"},"transform":[{"filter":"datum.p==='MO'"}],"mark":{"type":"text","text":"10k CPS","align":"left","baseline":"middle","fontSize":8.5,"color":"#333"}},
{"data":{"name":"names"},"transform":[{"filter":"datum.p==='MO'"}],"mark":{"type":"text","align":"right","baseline":"middle","fontSize":11,"fontWeight":"bold","color":"#111"},"encoding":{"text":{"field":"p"}}}
]}
],"spacing":21,"bounds":"flush"},
{"hconcat":[
{"width":254,"height":87,"encoding":{"x":{"field":"x","type":"quantitative","scale":{"domain":[300,1700],"nice":false,"zero":false},"axis":{"values":[400,600,800,1000,1200,1400,1600],"format":"d","labelExpr":"datum.value % 400 === 0 ? datum.label : ''","title":null}},"y":{"field":"y","type":"quantitative","scale":{"domain":[0,262]},"axis":null}},
"layer":[
{"data":{"name":"S3_H"},"mark":{"type":"line","strokeWidth":1.2},"encoding":{"color":{"datum":"AgNPs-H₂O","type":"nominal"}}},
{"data":{"name":"S3_N"},"mark":{"type":"line","strokeWidth":1.2},"encoding":{"color":{"datum":"Solid(NRS)","type":"nominal"}}},
{"data":{"name":"S3_D"},"mark":{"type":"line","strokeWidth":1.2},"encoding":{"color":{"datum":"AgNPs-DMF","type":"nominal"}}},
{"data":{"name":"bars"},"transform":[{"filter":"datum.p==='S III'"}],"mark":{"type":"errorbar","ticks":true,"color":"#333","orient":"vertical"},"encoding":{"y2":{"field":"y2"}}},
{"data":{"name":"cps"},"transform":[{"filter":"datum.p==='S III'"}],"mark":{"type":"text","text":"10k CPS","align":"left","baseline":"middle","fontSize":8.5,"color":"#333"}},
{"data":{"name":"names"},"transform":[{"filter":"datum.p==='S III'"}],"mark":{"type":"text","align":"right","baseline":"middle","fontSize":11,"fontWeight":"bold","color":"#111"},"encoding":{"text":{"field":"p"}}}
]},
{"width":255,"height":87,"encoding":{"x":{"field":"x","type":"quantitative","scale":{"domain":[200,1700],"nice":false,"zero":false},"axis":{"values":[400,600,800,1000,1200,1400,1600],"format":"d","labelExpr":"datum.value % 400 === 0 ? datum.label : ''","title":null}},"y":{"field":"y","type":"quantitative","scale":{"domain":[0,262]},"axis":null}},
"layer":[
{"data":{"name":"GA_H"},"mark":{"type":"line","strokeWidth":1.2},"encoding":{"color":{"datum":"AgNPs-H₂O","type":"nominal"}}},
{"data":{"name":"GA_N"},"mark":{"type":"line","strokeWidth":1.2},"encoding":{"color":{"datum":"Solid(NRS)","type":"nominal"}}},
{"data":{"name":"GA_D"},"mark":{"type":"line","strokeWidth":1.2},"encoding":{"color":{"datum":"AgNPs-DMF","type":"nominal"}}},
{"data":{"name":"bars"},"transform":[{"filter":"datum.p==='GA'"}],"mark":{"type":"errorbar","ticks":true,"color":"#333","orient":"vertical"},"encoding":{"y2":{"field":"y2"}}},
{"data":{"name":"cps"},"transform":[{"filter":"datum.p==='GA'"}],"mark":{"type":"text","text":"10k CPS","align":"left","baseline":"middle","fontSize":8.5,"color":"#333"}},
{"data":{"name":"names"},"transform":[{"filter":"datum.p==='GA'"}],"mark":{"type":"text","align":"right","baseline":"middle","fontSize":11,"fontWeight":"bold","color":"#111"},"encoding":{"text":{"field":"p"}}}
]}
],"spacing":21,"bounds":"flush"}
]}],
"config":{"view":{"stroke":"#333","strokeWidth":1.3},"font":"Liberation Sans","axis":{"labelFont":"Liberation Sans","labelFontSize":9,"labelColor":"#444","domain":false,"grid":false,"tickColor":"#444","tickSize":-3,"labelPadding":3},"text":{"font":"Liberation Sans"}}
}
